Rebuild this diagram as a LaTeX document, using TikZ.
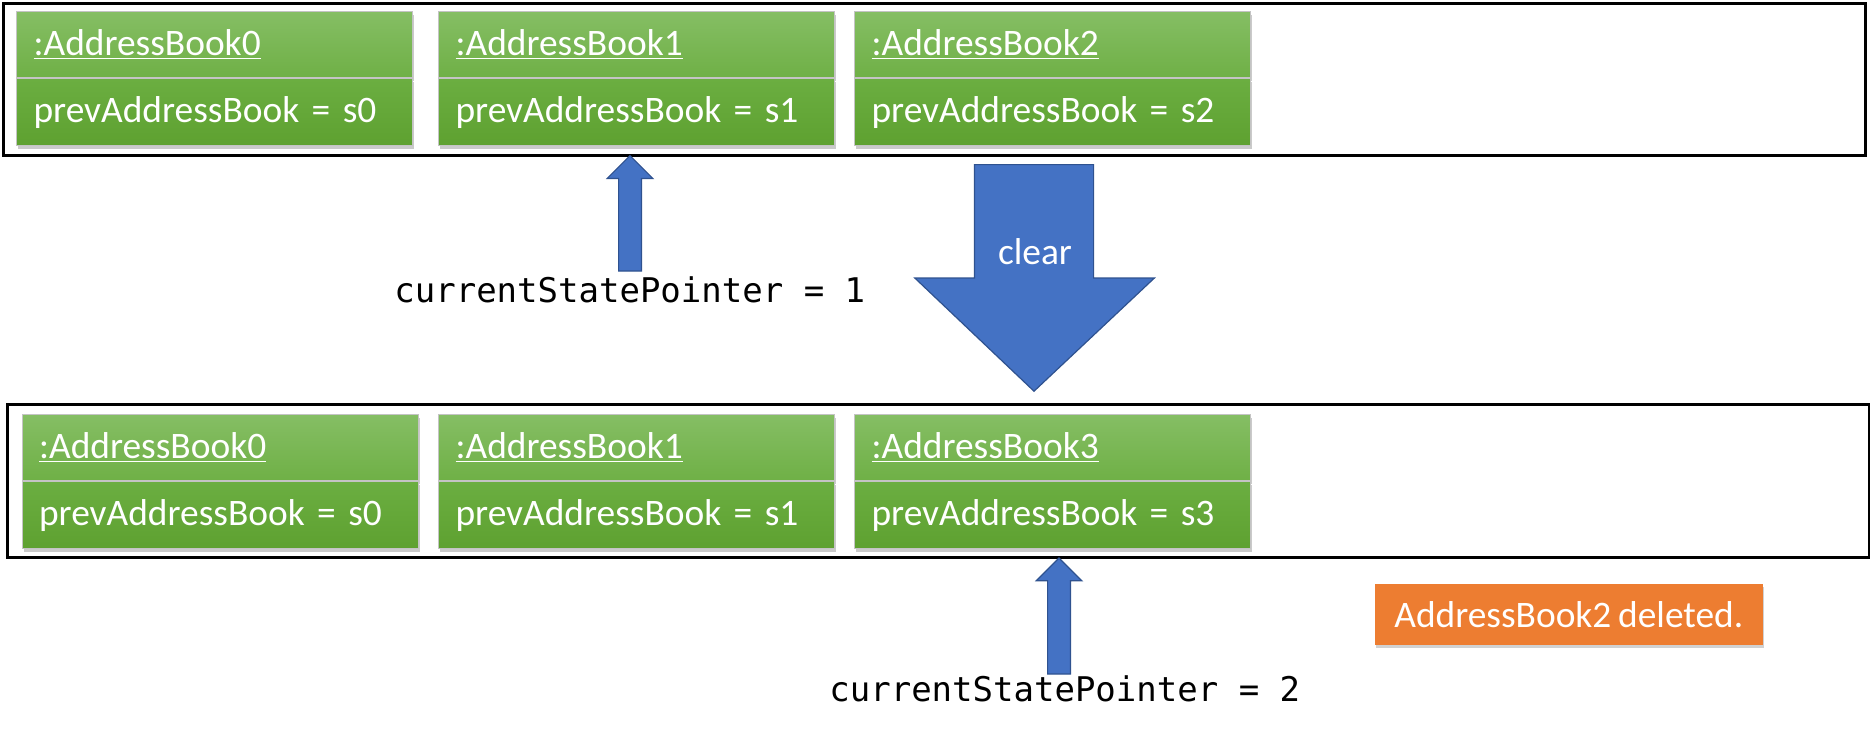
\documentclass[tikz,border=0pt]{standalone}
\usepackage{fontspec}
\setmainfont{Carlito}[WordSpace=0.8]
\newfontfamily\monofont{DejaVu Sans Mono}
\usetikzlibrary{shadows,calc}
\definecolor{gtop}{HTML}{85BE64}
\definecolor{gmid}{HTML}{6FB046}
\definecolor{gmidb}{HTML}{6BAE41}
\definecolor{gbot}{HTML}{5EA130}
\definecolor{gline}{HTML}{C4C4C4}
\definecolor{bfill}{HTML}{4472C4}
\definecolor{bline}{HTML}{2F528F}
\definecolor{ofill}{HTML}{ED7D31}
\tikzset{
  frame/.style={draw=black, line width=1.3pt, rectangle, inner sep=0pt, anchor=north west},
  objbase/.style={rectangle, anchor=north west, draw=gline, line width=0.6pt,
    minimum width=198pt, text width=181pt, align=left, inner xsep=8.5pt, inner ysep=0pt,
    text=white, font=\fontsize{18.7}{22}\selectfont,
    drop shadow={shadow xshift=0.8pt, shadow yshift=-1.6pt, opacity=0.35, fill=black!60}},
  objhead/.style={objbase, top color=gtop, bottom color=gmid, minimum height=33pt},
  objbody/.style={objbase, top color=gmidb, bottom color=gbot, minimum height=33.5pt},
  blockarrow/.style={fill=bfill, draw=bline, line width=0.6pt, line join=miter},
  ptrlabel/.style={anchor=base west, inner sep=0pt, font=\monofont\fontsize{17}{20}\selectfont},
  note/.style={rectangle, fill=ofill, text=white, minimum width=193.8pt, minimum height=30.4pt,
    font=\fontsize{18.7}{22}\selectfont,
    drop shadow={shadow xshift=0.6pt, shadow yshift=-1.2pt, opacity=0.3, fill=black!60}}
}
\newcommand{\blockup}[2]{%
  \draw[blockarrow] let \p1=(#1), \p2=(#2) in
    (\x1-5.7pt,\y1) -- (\x1-5.7pt,\y2-11.4pt) -- (\x1-11.4pt,\y2-11.4pt) -- (\x1,\y2)
    -- (\x1+11.4pt,\y2-11.4pt) -- (\x1+5.7pt,\y2-11.4pt) -- (\x1+5.7pt,\y1) -- cycle;}
\begin{document}
\begin{tikzpicture}
\useasboundingbox (0,0) rectangle (935pt,-368pt);
% frames
\node[frame, minimum width=930.8pt, minimum height=75.8pt] (topframe) at (1.2pt,-1.2pt) {};
\node[frame, minimum width=930.8pt, minimum height=76.5pt] (botframe) at (3pt,-201.5pt) {};
% top row
\node[objhead] (t0h) at (8pt,-5.5pt) {\underline{:AddressBook0}};
\node[objbody] (t0b) at (t0h.south west) {prevAddressBook = s0};
\node[objhead] (t1h) at (219pt,-5.5pt) {\underline{:AddressBook1}};
\node[objbody] (t1b) at (t1h.south west) {prevAddressBook = s1};
\node[objhead] (t2h) at (427pt,-5.5pt) {\underline{:AddressBook2}};
\node[objbody] (t2b) at (t2h.south west) {prevAddressBook = s2};
% bottom row
\node[objhead] (b0h) at (10.75pt,-207pt) {\underline{:AddressBook0}};
\node[objbody] (b0b) at (b0h.south west) {prevAddressBook = s0};
\node[objhead] (b1h) at (219pt,-207pt) {\underline{:AddressBook1}};
\node[objbody] (b1b) at (b1h.south west) {prevAddressBook = s1};
\node[objhead] (b3h) at (427pt,-207pt) {\underline{:AddressBook3}};
\node[objbody] (b3b) at (b3h.south west) {prevAddressBook = s3};
% pointer labels
\node[ptrlabel] (ptr1) at (197pt,-151pt) {currentStatePointer = 1};
\node[ptrlabel] (ptr2) at (414.5pt,-350.5pt) {currentStatePointer = 2};
% pointer arrows
\coordinate (a1base) at (315pt,-135.5pt);
\coordinate (a1tip) at (315pt,-77.8pt);
\blockup{a1base}{a1tip}
\coordinate (a2base) at (529.5pt,-337pt);
\coordinate (a2tip) at (529.5pt,-279pt);
\blockup{a2base}{a2tip}
% clear arrow
\draw[blockarrow] (487.2pt,-82.3pt) -- (546.8pt,-82.3pt) -- (546.8pt,-139pt) -- (577.2pt,-139pt)
  -- (517pt,-195.6pt) -- (457.4pt,-139pt) -- (487.2pt,-139pt) -- cycle;
\node[text=white, font=\fontsize{18.7}{22}\selectfont] (clear) at (517.5pt,-125.8pt) {clear};
% note
\node[note] (deleted) at (784.4pt,-307.4pt) {AddressBook2 deleted.};
\end{tikzpicture}
\end{document}
